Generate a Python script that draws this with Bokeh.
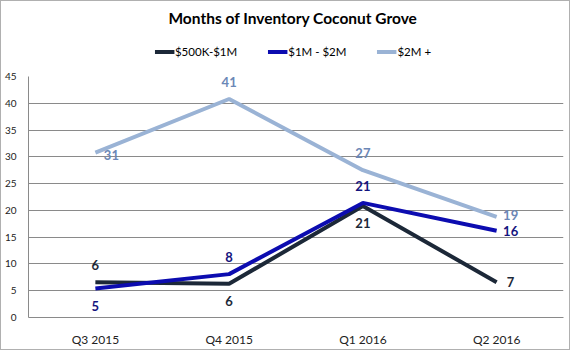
from bokeh.plotting import figure
from bokeh.layouts import column
from bokeh.models import Legend, LegendItem, FactorRange, FixedTicker, ColumnDataSource
from bokeh.core.properties import value
from bokeh.embed import file_html
from bokeh.resources import INLINE

quarters = ["Q3 2015", "Q4 2015", "Q1 2016", "Q2 2016"]
series_names = ["$500K-$1M", "$1M - $2M", "$2M +"]
s_500k_1m = [6.6, 6.3, 20.8, 6.6]
s_1m_2m = [5.4, 8.1, 21.4, 16.2]
s_2m_plus = [30.8, 40.8, 27.5, 18.8]
labels_500k_1m = ["6", "6", "21", "7"]
labels_1m_2m = ["5", "8", "21", "16"]
labels_2m_plus = ["31", "41", "27", "19"]
y_ticks = [0, 5, 10, 15, 20, 25, 30, 35, 40, 45]

FONT = "Lato"
line_colors = ["#1c2838", "#0c0cb0", "#9ab3d5"]
label_colors = ["#1c2838", "#14147e", "#6b87b6"]

# ---- header: title + legend ----
h = figure(width=562, height=70, x_range=(0, 1), y_range=(0, 1),
           output_backend="svg", toolbar_location=None,
           min_border_left=0, min_border_right=0, min_border_top=6, min_border_bottom=0)
h.title.text = "Months of Inventory Coconut Grove"
h.title.align = "center"
h.title.text_font = FONT
h.title.text_font_size = "15.5px"
h.title.text_font_style = "bold"
h.title.text_color = "#000000"
h.axis.visible = False
h.grid.visible = False
h.outline_line_color = None

# ---- main chart ----
p = figure(frame_width=535, frame_height=241, x_range=FactorRange(*quarters), y_range=(0, 45),
           output_backend="svg", toolbar_location=None,
           min_border_left=4, min_border_right=6, min_border_top=5, min_border_bottom=4)
p.outline_line_color = None
p.yaxis.ticker = FixedTicker(ticks=y_ticks)
p.ygrid.ticker = FixedTicker(ticks=y_ticks)
p.ygrid.grid_line_color = "#8a8a8a"
p.ygrid.grid_line_width = 1
p.xgrid.grid_line_color = None
for ax in (p.xaxis[0], p.yaxis[0]):
    ax.axis_line_color = "#8a8a8a"
    ax.major_tick_line_color = None
    ax.minor_tick_line_color = None
    ax.major_label_text_font = FONT
    ax.major_label_text_color = "#222222"
p.yaxis.major_label_text_font_size = "10px"
p.yaxis.major_label_standoff = 6
p.xaxis.major_label_text_font_size = "12px"
p.xaxis.major_label_standoff = 8

all_vals = [s_500k_1m, s_1m_2m, s_2m_plus]
all_labels = [labels_500k_1m, labels_1m_2m, labels_2m_plus]
# label offsets (screen px): dx, dy (positive dy = down)
offsets = [
    [(0, -17), (0, 17), (0, 17), (14, 0)],
    [(0, 17), (0, -17), (0, -17), (14, 0)],
    [(16, 2), (0, -17), (0, -17), (14, -2)],
]
legend_items = []
for vals, labs, name, lc, tc, offs in zip(all_vals, all_labels, series_names, line_colors, label_colors, offsets):
    src = ColumnDataSource(dict(x=quarters, y=vals, t=labs,
                                dx=[o[0] for o in offs], dy=[o[1] for o in offs]))
    p.line("x", "y", source=src, line_color=lc, line_width=4)
    p.text("x", "y", text="t", source=src, x_offset="dx", y_offset="dy",
           text_font=value(FONT), text_font_size="13px", text_font_style="bold",
           text_color=tc, text_align="center", text_baseline="middle")
    # legend proxy: same series values, lying outside the header's 0..1 ranges (not visible)
    proxy = h.line(x=vals, y=vals, line_color=lc, line_width=4)
    legend_items.append(LegendItem(label=name, renderers=[proxy]))

legend = Legend(items=legend_items, orientation="horizontal", location="center",
                label_text_font=FONT, label_text_font_size="11.5px", label_text_color="#000000",
                glyph_width=20, glyph_height=6, spacing=30, label_standoff=1,
                border_line_color=None, background_fill_alpha=0, padding=2, margin=0)
h.add_layout(legend)

layout = column(h, p, spacing=0, styles={"border": "1px solid #b0b0b0"})
open("out.html", "w").write(file_html(layout, INLINE))
